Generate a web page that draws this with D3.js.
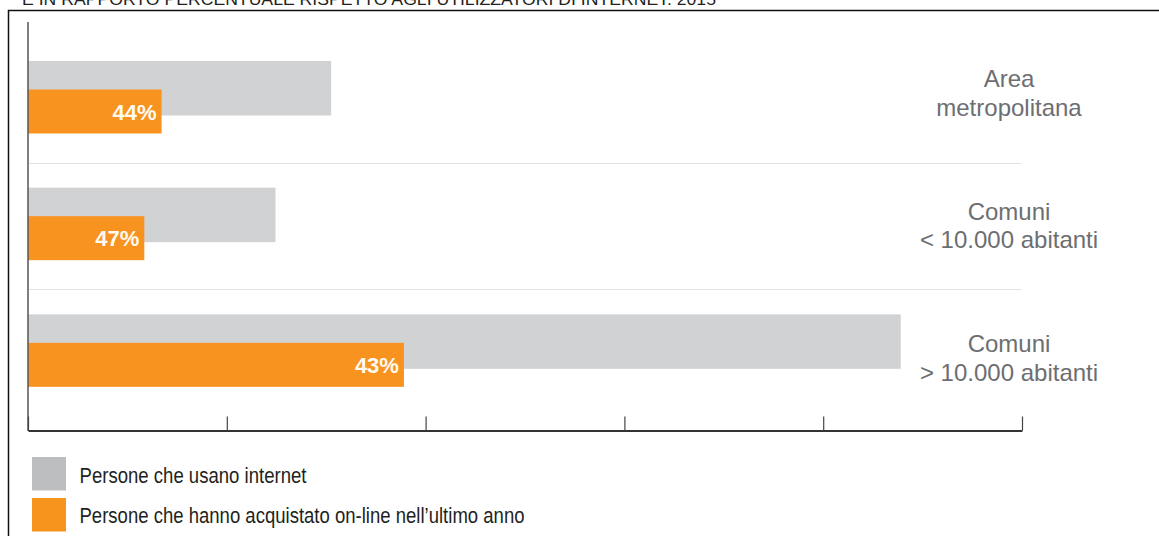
<!DOCTYPE html>
<html>
<head>
<meta charset="utf-8">
<script src="https://cdn.jsdelivr.net/npm/d3@7"></script>
<style>
  html, body { margin: 0; padding: 0; background: #ffffff; }
  svg { display: block; }
</style>
</head>
<body>
<svg id="chart" width="1159" height="536"></svg>
<script>
// Territorial categories (top to bottom)
const categories = ["Area metropolitana", "Comuni < 10.000 abitanti", "Comuni > 10.000 abitanti"];
// Label lines shown to the right of each group
const categoryLines = [["Area", "metropolitana"], ["Comuni", "< 10.000 abitanti"], ["Comuni", "> 10.000 abitanti"]];
// Persons using internet (thousands)
const internetUsers = [1525, 1245, 4390];
// Persons who bought on-line in the last year (thousands)
const onlineBuyers = [672, 585, 1891];
// Axis ticks (no labels printed)
const tickValues = [0, 1000, 2000, 3000, 4000, 5000];
// Legend entries
const legendLabels = ["Persone che usano internet", "Persone che hanno acquistato on-line nell\u2019ultimo anno"];
const titleText = "E IN RAPPORTO PERCENTUALE RISPETTO AGLI UTILIZZATORI DI INTERNET. 2015";

const colors = { users: "#d1d2d4", buyers: "#f7931e", legendUsers: "#bdbec0", legendBuyers: "#f7941d" };
const svg = d3.select("#chart");

// Title, running along the top edge
svg.append("text")
  .attr("x", 22).attr("y", 5)
  .attr("textLength", 694).attr("lengthAdjust", "spacingAndGlyphs")
  .style("font-family", "'Liberation Sans', Arial, sans-serif")
  .style("font-size", "17px")
  .attr("fill", "#231f20")
  .text(titleText);

// Outer frame
svg.append("path")
  .attr("d", "M8.5,540 V10.5 H1165")
  .attr("fill", "none").attr("stroke", "#111").attr("stroke-width", 1.5);

const x = d3.scaleLinear().domain([0, 5000]).range([28, 1022]);
const y = d3.scaleBand().domain(categories).range([36, 416]).paddingInner(0).paddingOuter(0);
const labelY = d3.scalePoint().domain(categories).range([87, 352]);

const greyOffset = 25, greyH = 54.5;
const orangeOffset = 53.5, orangeH = 44;

// Separators between groups
svg.append("g").selectAll("line")
  .data(categories.slice(1))
  .join("line")
  .attr("x1", x(0)).attr("x2", x(5000))
  .attr("y1", d => Math.round(y(d)) + 0.5).attr("y2", d => Math.round(y(d)) + 0.5)
  .attr("stroke", "#e3e3e3").attr("stroke-width", 1.2);

const rows = categories.map((c, i) => ({ c, users: internetUsers[i], buyers: onlineBuyers[i], lines: categoryLines[i] }));

// Internet users bars
svg.append("g").selectAll("rect")
  .data(rows).join("rect")
  .attr("x", x(0))
  .attr("y", d => y(d.c) + greyOffset)
  .attr("width", d => x(d.users) - x(0))
  .attr("height", greyH)
  .attr("fill", colors.users);

// Online buyers bars
svg.append("g").selectAll("rect")
  .data(rows).join("rect")
  .attr("x", x(0))
  .attr("y", d => y(d.c) + orangeOffset)
  .attr("width", d => x(d.buyers) - x(0))
  .attr("height", orangeH)
  .attr("fill", colors.buyers);

// Share of buyers among internet users
svg.append("g").selectAll("text")
  .data(rows).join("text")
  .attr("x", d => x(d.buyers) - 5)
  .attr("y", d => y(d.c) + orangeOffset + orangeH / 2 + 8)
  .attr("text-anchor", "end")
  .style("font-family", "'Liberation Sans', Arial, sans-serif")
  .style("font-size", "22px").style("font-weight", "bold")
  .attr("fill", "#fffaf2")
  .text(d => Math.round(d.buyers / d.users * 100) + "%");

// Category labels on the right
const lab = svg.append("g").selectAll("text")
  .data(rows).join("text")
  .attr("x", 1009)
  .attr("y", d => labelY(d.c))
  .attr("text-anchor", "middle")
  .style("font-family", "'Liberation Sans', Arial, sans-serif")
  .style("font-size", "24px")
  .attr("fill", "#6d6e71");
lab.selectAll("tspan")
  .data(d => d.lines.map((t, k) => ({ t, k })))
  .join("tspan")
  .attr("x", 1009)
  .attr("dy", d => d.k === 0 ? 0 : 28.5)
  .text(d => d.t);

// Vertical axis line
svg.append("line")
  .attr("x1", x(0)).attr("x2", x(0))
  .attr("y1", 22).attr("y2", 431)
  .attr("stroke", "#555").attr("stroke-width", 1.5);

// Bottom axis with inward ticks and no labels
const axis = d3.axisBottom(x).tickValues(tickValues).tickSizeInner(-14).tickSizeOuter(0).tickFormat("");
const gAxis = svg.append("g").attr("transform", "translate(0,430.5)").call(axis);
gAxis.select(".domain").attr("stroke", "#333").attr("stroke-width", 2);
gAxis.selectAll(".tick line").attr("stroke", "#444").attr("stroke-width", 1.2);

// Legend
const legend = svg.append("g");
const legendSwatch = [colors.legendUsers, colors.legendBuyers];
const legendWidths = [227, 445];
legend.selectAll("rect")
  .data(legendLabels).join("rect")
  .attr("x", 32).attr("y", (d, i) => 457 + i * 41)
  .attr("width", 34).attr("height", 33.5)
  .attr("fill", (d, i) => legendSwatch[i]);
legend.selectAll("text")
  .data(legendLabels).join("text")
  .attr("x", 79.5).attr("y", (d, i) => 483 + i * 40)
  .attr("textLength", (d, i) => legendWidths[i]).attr("lengthAdjust", "spacingAndGlyphs")
  .style("font-family", "'Liberation Sans', Arial, sans-serif")
  .style("font-size", "22px")
  .attr("fill", "#231f20")
  .text(d => d);
</script>
</body>
</html>
